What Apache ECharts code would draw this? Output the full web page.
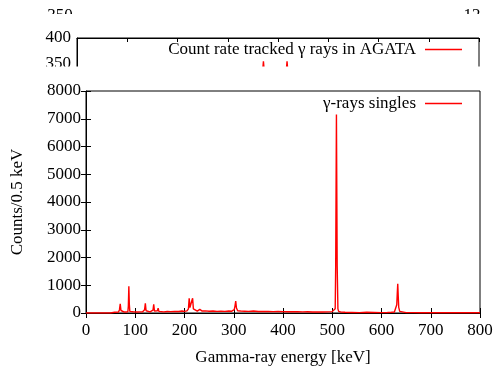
<!DOCTYPE html>
<html><head><meta charset="utf-8">
<script src="https://cdn.jsdelivr.net/npm/echarts@6/dist/echarts.min.js"></script>
<style>html,body{margin:0;padding:0;background:#fff}#c{width:493px;height:369px}</style>
</head><body><div id="c"></div>
<script>
// Main spectrum: gamma-ray energy (keV) and counts per 0.5 keV
const energy = [0,20,40,50,54,58,62,66,68,69.5,71,74,78,82,85,86,87,88,89,92,96,100,105,110,115,119,120.5,122,126,130,134,136,137.5,139,142,145,146.5,148,152,158,165,172,180,188,195,200,205,208,209.5,211,212.5,214,215,216.5,218,221,226,229.5,231,232.5,236,242,250,258,266,274,282,290,296,301,302.5,304,305.5,308,314,322,330,340,350,360,370,380,390,400,410,420,430,440,450,460,470,480,490,500,504,506,507,508.5,510,511.5,513,518,526,540,555,570,585,600,612,620,626,629,631,632,633,634,635,637,641,650,665,680,700,720,740,760,780,800];
const counts = [0,0,0,2,10,25,30,35,120,330,90,30,35,40,45,250,960,300,60,80,45,40,35,40,45,120,350,80,45,40,50,100,310,70,50,80,170,60,45,40,55,50,60,55,70,60,75,150,530,200,150,200,450,530,150,80,70,100,130,90,70,75,65,70,60,65,60,70,65,120,250,430,180,80,70,65,60,70,55,60,55,50,55,50,45,50,45,40,45,35,40,35,40,50,80,150,1700,7150,1700,150,60,30,25,20,15,25,20,15,20,25,30,60,300,700,1050,600,200,60,20,15,12,10,15,10,8,10,8,8];
// Upper (partly hidden) panel: count rate
const rateX = [0,1,2,3,3.5,3.69,3.71,3.73,4.0,4.16,4.18,4.20,4.5,5,6,7,8];
const rateY = [320,322,318,325,330,331,355,331,330,331,355,330,328,320,318,321,320];
// Tick labels
const xTicks = [0,100,200,300,400,500,600,700,800];
const yTicks = [0,1000,2000,3000,4000,5000,6000,7000,8000];
const topYTicks = [300,350,400];

const FONT = 'Liberation Serif';
const FS = 17;
const chart = echarts.init(document.getElementById('c'), null, {renderer:'canvas'});
const tickStyle = {fontFamily: FONT, fontSize: FS, color: '#000', formatter: v => String(v)};
const spec = energy.map((e,i)=>[e,counts[i]]);
const rate = rateX.map((x,i)=>[x,rateY[i]]);

chart.setOption({
  animation:false,
  backgroundColor:'#fff',
  grid:[
    {left:77, right:14, top:38, height:52, show:true, borderColor:'#000', borderWidth:1, backgroundColor:'transparent', z:0, containLabel:false, outerBoundsMode:'none'},
    {left:86, right:13, top:91, bottom:56, show:true, borderColor:'#000', borderWidth:1, backgroundColor:'transparent', z:10, containLabel:false, outerBoundsMode:'none'}
  ],
  xAxis:[
    {gridIndex:0, type:'value', min:0, max:8, interval:1, position:'top', z:1,
     axisLine:{lineStyle:{color:'#000'}}, axisTick:{inside:true, length:4, lineStyle:{color:'#000'}},
     axisLabel:{show:false}, splitLine:{show:false}},
    {gridIndex:1, type:'value', min:xTicks[0], max:xTicks[xTicks.length-1], interval:100, z:10,
     name:'Gamma-ray energy [keV]', nameLocation:'middle', nameGap:36,
     nameTextStyle:{fontFamily:FONT, fontSize:FS, color:'#000'},
     axisLine:{lineStyle:{color:'#000'}}, axisTick:{inside:true, length:5, lineStyle:{color:'#000'}},
     axisLabel:Object.assign({margin:9}, tickStyle), splitLine:{show:false}},
    {gridIndex:1, type:'value', min:0, max:800, interval:100, position:'top', z:10,
     axisLine:{show:false}, axisTick:{inside:true, length:5, lineStyle:{color:'#000'}},
     axisLabel:{show:false}, splitLine:{show:false}}
  ],
  yAxis:[
    {gridIndex:0, type:'value', min:topYTicks[0], max:topYTicks[2], interval:50, z:1,
     axisLine:{show:true, lineStyle:{color:'#000'}}, axisTick:{show:false},
     axisLabel:Object.assign({margin:6}, tickStyle), splitLine:{show:false}},
    {gridIndex:1, type:'value', min:yTicks[0], max:yTicks[yTicks.length-1], interval:1000, z:10,
     name:'Counts/0.5 keV', nameLocation:'middle', nameGap:60,
     nameTextStyle:{fontFamily:FONT, fontSize:FS, color:'#000'},
     axisLine:{show:true, lineStyle:{color:'#000'}}, axisTick:{inside:true, length:5, lineStyle:{color:'#000'}},
     axisLabel:Object.assign({margin:5}, tickStyle), splitLine:{show:false}},
    {gridIndex:1, type:'value', min:0, max:8000, interval:1000, position:'right', z:10,
     axisLine:{show:false}, axisTick:{inside:true, length:5, lineStyle:{color:'#000'}},
     axisLabel:{show:false}, splitLine:{show:false}}
  ],
  legend:[
    {data:['Count rate tracked \u03b3 rays in AGATA'], right:31, top:41, padding:0, align:'right', z:1,
     icon:'rect', itemWidth:37, itemHeight:1.5, itemStyle:{color:'#ff0000'},
     textStyle:{fontFamily:FONT, fontSize:FS, color:'#000', padding:[0,4,0,0]}},
    {data:['\u03b3-rays singles'], right:31, top:95, padding:0, align:'right', z:12,
     icon:'rect', itemWidth:37, itemHeight:1.5, itemStyle:{color:'#ff0000'},
     textStyle:{fontFamily:FONT, fontSize:FS, color:'#000', padding:[0,4,0,0]}}
  ],
  graphic:[
    {type:'text', z:0, x:60, y:16, style:{text:'350', fontFamily:FONT, fontSize:FS, fill:'#000', align:'center', verticalAlign:'middle'}},
    {type:'text', z:0, x:472, y:16, style:{text:'12', fontFamily:FONT, fontSize:FS, fill:'#000', align:'center', verticalAlign:'middle'}},
    {type:'rect', z:5, shape:{x:0, y:14, width:493, height:16}, style:{fill:'#fff'}},
    {type:'rect', z:5, shape:{x:0, y:66.5, width:493, height:303}, style:{fill:'#fff'}}
  ],
  series:[
    {type:'line', name:'Count rate tracked \u03b3 rays in AGATA', xAxisIndex:0, yAxisIndex:0, data:rate, z:1,
     symbol:'none', lineStyle:{color:'#ff0000', width:1.4}, itemStyle:{color:'#ff0000'}},
    {type:'line', name:'\u03b3-rays singles', xAxisIndex:1, yAxisIndex:1, data:spec, z:11,
     symbol:'none', lineStyle:{color:'#ff0000', width:1.4}, itemStyle:{color:'#ff0000'}}
  ]
});
</script></body></html>
